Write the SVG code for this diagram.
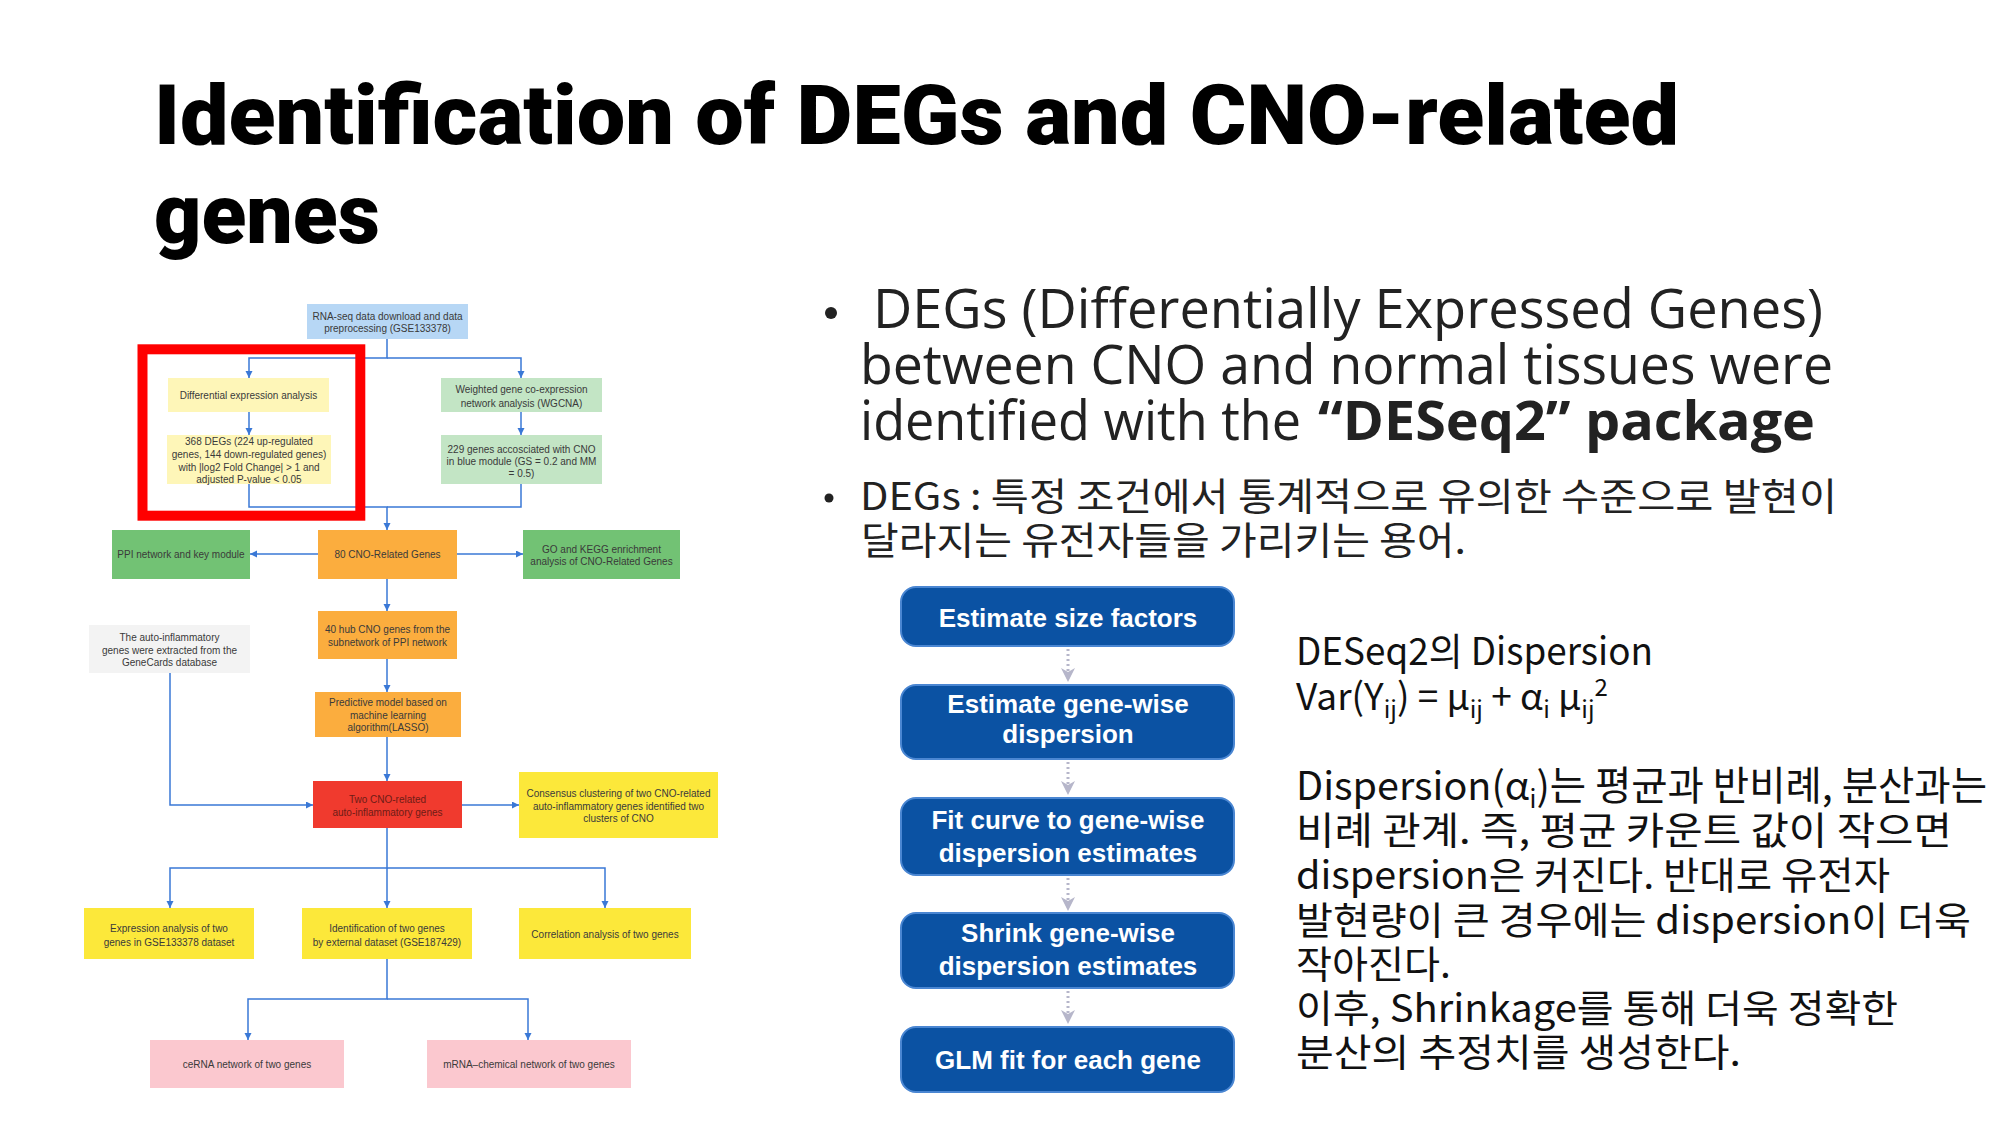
<svg xmlns="http://www.w3.org/2000/svg" width="2000" height="1125" viewBox="0 0 2000 1125">
<defs>
<style>
.fc{font-family:"Liberation Sans",Arial,sans-serif;font-size:10px;fill:#3a3a3a;text-anchor:middle}
.cn{stroke:#3a78d6;stroke-width:1.5;fill:none}
.db{fill:#0b52a3;stroke:#4a86d2;stroke-width:2}
.dt{font-family:"Liberation Sans",Arial,sans-serif;font-weight:bold;font-size:26px;fill:#ffffff;text-anchor:middle}
.dd{stroke:#b6b6ca;stroke-width:3;stroke-dasharray:2 3;fill:none}
.dh{fill:#b6b6ca}
.ti{font-family:Roboto,"Liberation Sans",sans-serif;font-weight:900;font-size:84px;fill:#000}
.b1{font-family:"Open Sans","Liberation Sans",sans-serif;font-size:54px;fill:#222}
.kr{font-family:"Noto Sans CJK KR","Noto Sans",sans-serif;font-size:38px;fill:#111}
.kb{font-family:"Noto Sans CJK KR","Noto Sans",sans-serif;font-size:38px;fill:#222}
</style>
<marker id="ah" markerWidth="8" markerHeight="8" refX="7" refY="3.5" orient="auto" markerUnits="userSpaceOnUse"><path d="M0,0 L7,3.5 L0,7 z" fill="#3a78d6"/></marker>
</defs>
<rect width="2000" height="1125" fill="#ffffff"/>

<g id="title">
<text class="ti" x="154" y="144" textLength="1525" lengthAdjust="spacingAndGlyphs">Identification of DEGs and CNO-related</text>
<text class="ti" x="154" y="243" textLength="226" lengthAdjust="spacingAndGlyphs">genes</text>
</g>

<g id="bullets">
<circle cx="831" cy="313" r="6" fill="#222"/>
<text class="b1" x="873" y="328" textLength="950" lengthAdjust="spacingAndGlyphs">DEGs (Differentially Expressed Genes)</text>
<text class="b1" x="860" y="384" textLength="973" lengthAdjust="spacingAndGlyphs">between CNO and normal tissues were</text>
<text class="b1" x="860" y="440" textLength="441" lengthAdjust="spacingAndGlyphs">identified with the</text>
<text class="b1" x="1318" y="440" font-weight="bold" textLength="497" lengthAdjust="spacingAndGlyphs">“DESeq2” package</text>
<circle cx="829" cy="498" r="4.5" fill="#222"/>
<text class="kb" x="860" y="510" textLength="977" lengthAdjust="spacingAndGlyphs">DEGs : 특정 조건에서 통계적으로 유의한 수준으로 발현이</text>
<text class="kb" x="861" y="554" textLength="605" lengthAdjust="spacingAndGlyphs">달라지는 유전자들을 가리키는 용어.</text>
</g>

<g id="dispersion-text">
<text class="kr" x="1296" y="665" textLength="357" lengthAdjust="spacingAndGlyphs">DESeq2의 Dispersion</text>
<text class="kr" x="1296" y="710" style="font-size:37px">Var(Y<tspan font-size="24" dy="8">ij</tspan><tspan dy="-8">) = μ</tspan><tspan font-size="24" dy="8">ij</tspan><tspan dy="-8"> + α</tspan><tspan font-size="24" dy="8">i</tspan><tspan dy="-8"> μ</tspan><tspan font-size="24" dy="8">ij</tspan><tspan font-size="24" dy="-22">2</tspan></text>
<text class="kr" x="1296" y="800" style="font-size:39.5px">Dispersion(α<tspan font-size="25" dy="8">i</tspan><tspan dy="-8">)는 평균과 반비례, 분산과는</tspan></text>
<text class="kr" x="1296" y="844" textLength="656" lengthAdjust="spacingAndGlyphs">비례 관계. 즉, 평균 카운트 값이 작으면</text>
<text class="kr" x="1296" y="889" textLength="594" lengthAdjust="spacingAndGlyphs">dispersion은 커진다. 반대로 유전자</text>
<text class="kr" x="1296" y="934" textLength="675" lengthAdjust="spacingAndGlyphs">발현량이 큰 경우에는 dispersion이 더욱</text>
<text class="kr" x="1296" y="978" textLength="155" lengthAdjust="spacingAndGlyphs">작아진다.</text>
<text class="kr" x="1296" y="1022" textLength="602" lengthAdjust="spacingAndGlyphs">이후, Shrinkage를 통해 더욱 정확한</text>
<text class="kr" x="1296" y="1066" textLength="445" lengthAdjust="spacingAndGlyphs">분산의 추정치를 생성한다.</text>
</g>

<g id="deseq-steps">
<g id="step1"><rect class="db" x="901" y="587" width="333" height="59" rx="15"/><text class="dt" x="1068" y="627">Estimate size factors</text></g>
<g id="step2"><rect class="db" x="901" y="685" width="333" height="74" rx="15"/><text class="dt" x="1068" y="713">Estimate gene-wise</text><text class="dt" x="1068" y="743">dispersion</text></g>
<g id="step3"><rect class="db" x="901" y="798" width="333" height="77" rx="15"/><text class="dt" x="1068" y="829">Fit curve to gene-wise</text><text class="dt" x="1068" y="862">dispersion estimates</text></g>
<g id="step4"><rect class="db" x="901" y="913" width="333" height="75" rx="15"/><text class="dt" x="1068" y="942">Shrink gene-wise</text><text class="dt" x="1068" y="975">dispersion estimates</text></g>
<g id="step5"><rect class="db" x="901" y="1027" width="333" height="65" rx="15"/><text class="dt" x="1068" y="1069">GLM fit for each gene</text></g>
</g>

<g id="deseq-connectors">
<line class="dd" x1="1068" y1="649" x2="1068" y2="671"/><path class="dh" d="M1061,668 L1068,682 L1075,668 L1068,672 z"/>
<line class="dd" x1="1068" y1="762" x2="1068" y2="784"/><path class="dh" d="M1061,781 L1068,795 L1075,781 L1068,785 z"/>
<line class="dd" x1="1068" y1="878" x2="1068" y2="900"/><path class="dh" d="M1061,897 L1068,911 L1075,897 L1068,901 z"/>
<line class="dd" x1="1068" y1="991" x2="1068" y2="1013"/><path class="dh" d="M1061,1010 L1068,1024 L1075,1010 L1068,1014 z"/>
</g>

<g id="flow-connectors">
<path class="cn" marker-end="url(#ah)" d="M387,339 V358 H249 V378"/>
<path class="cn" marker-end="url(#ah)" d="M387,358 H521 V378"/>
<path class="cn" marker-end="url(#ah)" d="M249,412 V435"/>
<path class="cn" marker-end="url(#ah)" d="M521,412 V435"/>
<path class="cn" marker-end="url(#ah)" d="M249,484 V507 H387 V530"/>
<path class="cn" d="M521,484 V507 H387"/>
<path class="cn" marker-end="url(#ah)" d="M318,554 H250"/>
<path class="cn" marker-end="url(#ah)" d="M457,554 H523"/>
<path class="cn" marker-end="url(#ah)" d="M387,579 V611"/>
<path class="cn" marker-end="url(#ah)" d="M387,659 V692"/>
<path class="cn" marker-end="url(#ah)" d="M387,737 V781"/>
<path class="cn" marker-end="url(#ah)" d="M170,673 V805 H313"/>
<path class="cn" marker-end="url(#ah)" d="M462,805 H519"/>
<path class="cn" marker-end="url(#ah)" d="M387,828 V868 H170 V908"/>
<path class="cn" marker-end="url(#ah)" d="M387,868 V908"/>
<path class="cn" marker-end="url(#ah)" d="M387,868 H605 V908"/>
<path class="cn" marker-end="url(#ah)" d="M387,959 V999 H248 V1040"/>
<path class="cn" marker-end="url(#ah)" d="M387,999 H528 V1040"/>
</g>

<g id="n-rna"><rect x="307" y="304" width="161" height="35" fill="#b7d7f5"/><text class="fc" x="387.5" y="319.5">RNA-seq data download and data</text><text class="fc" x="387.5" y="332">preprocessing (GSE133378)</text></g>
<g id="n-diff"><rect x="168" y="378" width="161" height="34" fill="#fef6b8"/><text class="fc" x="248.5" y="398.5">Differential expression analysis</text></g>
<g id="n-degs"><rect x="167" y="435" width="164" height="49" fill="#fef6b8"/><text class="fc" x="249" y="445">368 DEGs (224 up-regulated</text><text class="fc" x="249" y="458">genes, 144 down-regulated genes)</text><text class="fc" x="249" y="471">with |log2 Fold Change| &gt; 1 and</text><text class="fc" x="249" y="483">adjusted P-value &lt; 0.05</text></g>
<g id="n-wgcna"><rect x="441" y="378" width="161" height="34" fill="#c3e5c5"/><text class="fc" x="521.5" y="392.5">Weighted gene co-expression</text><text class="fc" x="521.5" y="406.5">network analysis (WGCNA)</text></g>
<g id="n-229"><rect x="441" y="435" width="161" height="49" fill="#c3e5c5"/><text class="fc" x="521.5" y="452.5">229 genes accosciated with CNO</text><text class="fc" x="521.5" y="464.5">in blue module (GS = 0.2 and MM</text><text class="fc" x="521.5" y="477">= 0.5)</text></g>
<g id="n-ppi"><rect x="112" y="530" width="138" height="49" fill="#72c274"/><text class="fc" x="181" y="558">PPI network and key module</text></g>
<g id="n-80"><rect x="318" y="530" width="139" height="49" fill="#fbad3e"/><text class="fc" x="387.5" y="558">80 CNO-Related Genes</text></g>
<g id="n-go"><rect x="523" y="530" width="157" height="49" fill="#72c274"/><text class="fc" x="601.5" y="552.5">GO and KEGG enrichment</text><text class="fc" x="601.5" y="565">analysis of CNO-Related Genes</text></g>
<g id="n-auto"><rect x="89" y="625" width="161" height="48" fill="#f3f3f3"/><text class="fc" x="169.5" y="641">The auto-inflammatory</text><text class="fc" x="169.5" y="653.5">genes were extracted from the</text><text class="fc" x="169.5" y="666">GeneCards database</text></g>
<g id="n-40"><rect x="318" y="611" width="139" height="48" fill="#fbad3e"/><text class="fc" x="387.5" y="633">40 hub CNO genes from the</text><text class="fc" x="387.5" y="645.5">subnetwork of PPI network</text></g>
<g id="n-lasso"><rect x="315" y="692" width="146" height="45" fill="#fbad3e"/><text class="fc" x="388" y="706">Predictive model based on</text><text class="fc" x="388" y="718.5">machine learning</text><text class="fc" x="388" y="731">algorithm(LASSO)</text></g>
<g id="n-two"><rect x="313" y="781" width="149" height="47" fill="#f03a2e"/><text class="fc" x="387.5" y="803" style="fill:#6e1c16">Two CNO-related</text><text class="fc" x="387.5" y="816" style="fill:#6e1c16">auto-inflammatory genes</text></g>
<g id="n-cons"><rect x="519" y="772" width="199" height="66" fill="#fce83a"/><text class="fc" x="618.5" y="797">Consensus clustering of two CNO-related</text><text class="fc" x="618.5" y="809.5">auto-inflammatory genes identified two</text><text class="fc" x="618.5" y="822">clusters of CNO</text></g>
<g id="n-expr"><rect x="84" y="908" width="170" height="51" fill="#fce83a"/><text class="fc" x="169" y="932">Expression analysis of two</text><text class="fc" x="169" y="945.5">genes in GSE133378 dataset</text></g>
<g id="n-ident"><rect x="302" y="908" width="170" height="51" fill="#fce83a"/><text class="fc" x="387" y="932">Identification of two genes</text><text class="fc" x="387" y="945.5">by external dataset (GSE187429)</text></g>
<g id="n-corr"><rect x="519" y="908" width="172" height="51" fill="#fce83a"/><text class="fc" x="605" y="938">Correlation analysis of two genes</text></g>
<g id="n-cerna"><rect x="150" y="1040" width="194" height="48" fill="#fbc8cf"/><text class="fc" x="247" y="1068">ceRNA network of two genes</text></g>
<g id="n-mrna"><rect x="427" y="1040" width="204" height="48" fill="#fbc8cf"/><text class="fc" x="529" y="1068">mRNA–chemical network of two genes</text></g>

<g id="highlight"><rect x="142.5" y="349.3" width="217.8" height="166.4" fill="none" stroke="#ff0000" stroke-width="10"/></g>
</svg>
